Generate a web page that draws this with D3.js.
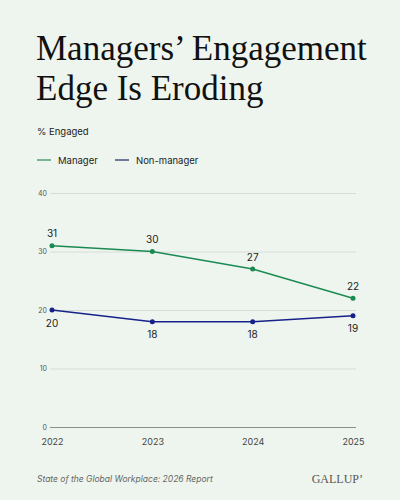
<!DOCTYPE html>
<html>
<head>
<meta charset="utf-8">
<script src="https://cdn.jsdelivr.net/npm/d3@7"></script>
<style>
  html, body { margin: 0; padding: 0; background: #eef5ee; }
  svg { display: block; }
</style>
</head>
<body>
<div id="chart"></div>
<script>
// Data
var years = ["2022", "2023", "2024", "2025"];
var managerValues = [31, 30, 27, 22];
var nonManagerValues = [20, 18, 18, 19];
var yTicks = [0, 10, 20, 30, 40];
var seriesNames = ["Manager", "Non-manager"];

var width = 400, height = 500;
var green = "#1b8a52", navy = "#16228a";

var svg = d3.select("#chart").append("svg")
    .attr("width", width)
    .attr("height", height);

svg.append("rect")
    .attr("width", width)
    .attr("height", height)
    .attr("fill", "#eef5ee");

// Title
var title = svg.append("text")
    .attr("x", 36)
    .attr("y", 60)
    .style("font-family", "'Liberation Serif', 'DejaVu Serif', serif")
    .style("font-size", "35px")
    .style("fill", "#111");
title.append("tspan").attr("x", 36).attr("y", 60).text("Managers\u2019 Engagement");
title.append("tspan").attr("x", 36).attr("y", 100).text("Edge Is Eroding");

svg.append("text")
    .attr("x", 37)
    .attr("y", 135)
    .style("font-family", "Inter, 'Noto Sans', sans-serif")
    .style("font-size", "9.5px")
    .style("fill", "#222")
    .text("% Engaged");

// Legend
var legend = svg.append("g").attr("transform", "translate(37,160)");
var legendX = [0, 78];
seriesNames.forEach(function(name, i) {
    legend.append("line")
        .attr("x1", legendX[i]).attr("x2", legendX[i] + 14)
        .attr("y1", 0).attr("y2", 0)
        .style("stroke", i == 0 ? "#4f9f75" : "#46527e")
        .style("stroke-width", 1.5);
    legend.append("text")
        .attr("x", legendX[i] + 21)
        .attr("y", 3.5)
        .style("font-family", "Inter, 'Noto Sans', sans-serif")
        .style("font-size", "9.5px")
        .style("fill", "#222")
        .text(name);
});

// Scales
var xScale = d3.scalePoint()
    .domain(years)
    .range([52, 353]);
var yScale = d3.scaleLinear()
    .domain([0, 40])
    .range([427, 193]);

// Grid
var yAxis = d3.axisLeft(yScale)
    .tickValues(yTicks)
    .tickSize(-306)
    .tickPadding(4);
var yAxisG = svg.append("g")
    .attr("transform", "translate(50,0)")
    .call(yAxis);
yAxisG.select(".domain").remove();
yAxisG.selectAll(".tick line")
    .style("stroke", function(d) { return d == 0 ? "#8a8f8a" : "#cfd6cf"; })
    .style("stroke-width", function(d) { return d == 0 ? 1 : 0.8; });
yAxisG.selectAll(".tick text")
    .attr("x", -3)
    .style("text-anchor", "end")
    .style("font-family", "Inter, 'Noto Sans', sans-serif")
    .style("font-size", "7px")
    .style("fill", "#555");

// X axis labels
var xAxis = d3.axisBottom(xScale).tickSize(0).tickPadding(0);
var xAxisG = svg.append("g")
    .attr("transform", "translate(0,439)")
    .call(xAxis);
xAxisG.select(".domain").remove();
xAxisG.selectAll(".tick text")
    .style("font-family", "Inter, 'Noto Sans', sans-serif")
    .style("font-size", "9px")
    .style("fill", "#444");

// Lines
var line = d3.line()
    .x(function(d, i) { return xScale(years[i]); })
    .y(function(d) { return yScale(d); });

function drawSeries(values, color, labelOffset) {
    svg.append("path")
        .datum(values)
        .attr("d", line)
        .style("fill", "none")
        .style("stroke", color)
        .style("stroke-width", 1.5);
    svg.selectAll(null)
        .data(values)
        .enter()
        .append("circle")
        .attr("cx", function(d, i) { return xScale(years[i]); })
        .attr("cy", function(d) { return yScale(d); })
        .attr("r", 2.5)
        .style("fill", color);
    svg.selectAll(null)
        .data(values)
        .enter()
        .append("text")
        .attr("x", function(d, i) { return xScale(years[i]); })
        .attr("y", function(d) { return yScale(d) + labelOffset; })
        .attr("dy", "0.35em")
        .style("text-anchor", "middle")
        .style("font-family", "Inter, 'Noto Sans', sans-serif")
        .style("font-size", "10px")
        .style("fill", "#222")
        .text(function(d) { return d; });
}

drawSeries(managerValues, green, -12);
drawSeries(nonManagerValues, navy, 13);

// Footer
svg.append("text")
    .attr("x", 37)
    .attr("y", 482)
    .style("font-family", "Inter, 'Noto Sans', sans-serif")
    .style("font-style", "italic")
    .style("font-size", "8.5px")
    .style("fill", "#666")
    .text("State of the Global Workplace: 2026 Report");

svg.append("text")
    .attr("x", 363)
    .attr("y", 483)
    .style("text-anchor", "end")
    .style("font-family", "'Liberation Serif', 'DejaVu Serif', serif")
    .style("font-size", "12px")
    .style("fill", "#555")
    .text("GALLUP\u2019");
</script>
</body>
</html>
